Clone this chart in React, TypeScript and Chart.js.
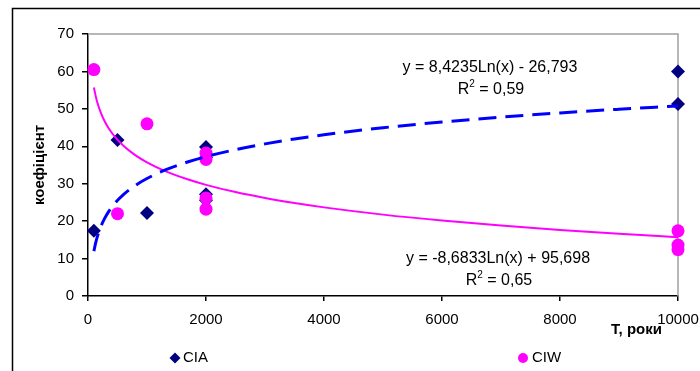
import React, { useEffect, useRef } from "react";
import { Chart, registerables } from "chart.js";

Chart.register(...registerables);

// ---- data ----
const ciaX = [100, 500, 1000, 2000, 2000, 2000, 2000, 10000, 10000];
const ciaY = [17.4, 41.7, 22.2, 39.8, 37.0, 27.2, 25.6, 60.0, 51.3];

const ciwX = [100, 500, 1000, 2000, 2000, 2000, 2000, 10000, 10000, 10000];
const ciwY = [60.5, 22.0, 46.0, 38.2, 36.5, 26.2, 23.2, 17.4, 13.6, 12.4];

// logarithmic trendlines as printed on the chart: y = a*ln(x) + b
const ciaTrend = { a: 8.4235, b: -26.793 };
const ciwTrend = { a: -8.6833, b: 95.698 };
const trendX = [100, 130, 170, 220, 280, 350, 450, 600, 800, 1000, 1300, 1700, 2000, 2500, 3000, 3500, 4000, 5000, 6000, 7000, 8000, 9000, 10000];

const xTicks = [0, 2000, 4000, 6000, 8000, 10000];
const yTicks = [0, 10, 20, 30, 40, 50, 60, 70];

const ciaEq = "y = 8,4235Ln(x) - 26,793";
const ciaR2 = "0,59";
const ciwEq = "y = -8,6833Ln(x) + 95,698";
const ciwR2 = "0,65";
const yTitle = "коефіцієнт";
const xTitle = "T, роки";
const legendLabels = ["CIA", "CIW"];

const FONT = "'Liberation Sans', Arial, sans-serif";
const NAVY = "#000080";
const MAGENTA = "#ff00ff";

const trendPoints = (t: { a: number; b: number }) =>
  trendX.map((x) => ({ x, y: t.a * Math.log(x) + t.b }));

function drawR2(ctx: CanvasRenderingContext2D, cx: number, y: number, val: string) {
  ctx.font = `16px ${FONT}`;
  const wR = ctx.measureText("R").width;
  const rest = " = " + val;
  const wRest = ctx.measureText(rest).width;
  ctx.font = `10px ${FONT}`;
  const w2 = ctx.measureText("2").width;
  const total = wR + w2 + wRest;
  let x = cx - total / 2;
  ctx.textAlign = "left";
  ctx.textBaseline = "alphabetic";
  ctx.font = `16px ${FONT}`;
  ctx.fillText("R", x, y);
  x += wR;
  ctx.font = `10px ${FONT}`;
  ctx.fillText("2", x, y - 7);
  x += w2;
  ctx.font = `16px ${FONT}`;
  ctx.fillText(rest, x, y);
}

const decoPlugin = {
  id: "deco",
  beforeDraw(chart: any) {
    const ctx = chart.ctx as CanvasRenderingContext2D;
    ctx.save();
    ctx.fillStyle = "#fff";
    ctx.fillRect(0, 0, chart.width, chart.height);
    ctx.strokeStyle = "#000";
    ctx.lineWidth = 1.5;
    ctx.beginPath();
    ctx.moveTo(12.5, chart.height);
    ctx.lineTo(12.5, 8.5);
    ctx.lineTo(chart.width, 8.5);
    ctx.stroke();
    ctx.restore();
  },
  beforeDatasetsDraw(chart: any) {
    const ctx = chart.ctx as CanvasRenderingContext2D;
    const a = chart.chartArea;
    ctx.save();
    ctx.strokeStyle = "#a0a0a0";
    ctx.lineWidth = 1.5;
    ctx.beginPath();
    ctx.moveTo(a.left, a.top);
    ctx.lineTo(a.right, a.top);
    ctx.lineTo(a.right, a.bottom);
    ctx.stroke();
    ctx.restore();
  },
  afterDraw(chart: any) {
    const ctx = chart.ctx as CanvasRenderingContext2D;
    ctx.save();
    ctx.fillStyle = "#000";
    // trendline equations
    ctx.font = `16px ${FONT}`;
    ctx.textAlign = "center";
    ctx.textBaseline = "alphabetic";
    ctx.fillText(ciaEq, 490, 72);
    drawR2(ctx, 491, 94, ciaR2);
    ctx.font = `16px ${FONT}`;
    ctx.textAlign = "center";
    ctx.textBaseline = "alphabetic";
    ctx.fillText(ciwEq, 498, 263);
    drawR2(ctx, 499, 285, ciwR2);

    // axis titles
    ctx.font = `bold 15px ${FONT}`;
    ctx.textAlign = "center";
    ctx.textBaseline = "middle";
    ctx.save();
    ctx.translate(40, 165);
    ctx.rotate(-Math.PI / 2);
    ctx.fillText(yTitle, 0, 0);
    ctx.restore();
    ctx.textAlign = "right";
    ctx.fillText(xTitle, 662, 330);

    // legend
    const ly = 358;
    ctx.fillStyle = NAVY;
    ctx.beginPath();
    ctx.moveTo(175, ly - 5.5);
    ctx.lineTo(180.5, ly);
    ctx.lineTo(175, ly + 5.5);
    ctx.lineTo(169.5, ly);
    ctx.closePath();
    ctx.fill();
    ctx.fillStyle = MAGENTA;
    ctx.beginPath();
    ctx.arc(523, ly, 5, 0, Math.PI * 2);
    ctx.fill();
    ctx.fillStyle = "#000";
    ctx.font = `15px ${FONT}`;
    ctx.textAlign = "left";
    ctx.textBaseline = "middle";
    ctx.fillText(legendLabels[0], 183, ly);
    ctx.fillText(legendLabels[1], 532, ly);
    ctx.restore();
  },
};

export default function App() {
  const ref = useRef<HTMLCanvasElement>(null);
  useEffect(() => {
    if (!ref.current) return;
    const chart = new Chart(ref.current, {
      type: "scatter",
      data: {
        datasets: [
          {
            label: "CIA trend",
            data: trendPoints(ciaTrend),
            showLine: true,
            borderColor: "#0000ff",
            borderWidth: 3,
            borderDash: [18, 9],
            pointRadius: 0,
            cubicInterpolationMode: "monotone",
            order: 0,
          } as any,
          {
            label: "CIW trend",
            data: trendPoints(ciwTrend),
            showLine: true,
            borderColor: MAGENTA,
            borderWidth: 2,
            pointRadius: 0,
            cubicInterpolationMode: "monotone",
            order: 1,
          } as any,
          {
            label: legendLabels[1],
            data: ciwX.map((x, i) => ({ x, y: ciwY[i] })),
            pointStyle: "circle",
            pointRadius: 6.5,
            backgroundColor: MAGENTA,
            borderColor: MAGENTA,
            borderWidth: 0,
            clip: false,
            order: 2,
          } as any,
          {
            label: legendLabels[0],
            data: ciaX.map((x, i) => ({ x, y: ciaY[i] })),
            pointStyle: "rectRot",
            pointRadius: 7,
            backgroundColor: NAVY,
            borderColor: NAVY,
            borderWidth: 0,
            clip: false,
            order: 3,
          } as any,
        ],
      },
      options: {
        animation: false,
        responsive: true,
        maintainAspectRatio: false,
        layout: { padding: { left: 0, top: 34, right: 22, bottom: 0 } },
        plugins: { legend: { display: false }, tooltip: { enabled: false } },
        scales: {
          x: {
            type: "linear",
            min: 0,
            max: 10000,
            afterBuildTicks: (s: any) => {
              s.ticks = xTicks.map((v) => ({ value: v }));
            },
            afterFit: (s: any) => {
              s.height = 75;
              s.paddingLeft = 0;
              s.paddingRight = 0;
            },
            ticks: {
              color: "#000",
              font: { family: FONT, size: 15 },
              padding: 10,
              maxRotation: 0,
              callback: (v: any) => String(v),
            },
            grid: { display: true, drawOnChartArea: false, drawTicks: true, tickLength: 5, color: "#000", lineWidth: 1.5 },
            border: { display: true, color: "#000", width: 1.5 },
          },
          y: {
            type: "linear",
            min: 0,
            max: 70,
            afterBuildTicks: (s: any) => {
              s.ticks = yTicks.map((v) => ({ value: v }));
            },
            afterFit: (s: any) => {
              s.width = 88;
              s.paddingTop = 0;
              s.paddingBottom = 0;
            },
            ticks: {
              color: "#000",
              font: { family: FONT, size: 15 },
              padding: 8,
            },
            grid: { display: true, drawOnChartArea: false, drawTicks: true, tickLength: 6, color: "#000", lineWidth: 1.5 },
            border: { display: true, color: "#000", width: 1.5 },
          },
        },
      },
      plugins: [decoPlugin as any],
    });
    return () => chart.destroy();
  }, []);
  return (
    <div style={{ position: "fixed", left: 0, top: 0, width: 700, height: 371, background: "#fff" }}>
      <canvas ref={ref} />
    </div>
  );
}
